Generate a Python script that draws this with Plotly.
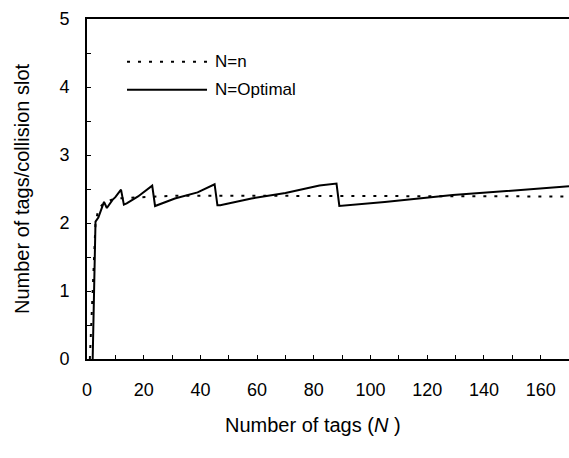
import plotly.graph_objects as go

# N = Optimal (solid line)
opt_x = [2, 3, 4, 5, 6, 7, 8, 9, 10, 11, 12, 13, 14, 18, 23, 24, 31, 39, 45, 46, 47, 58, 70, 82, 88, 89, 102, 105, 129, 141, 152, 170]
opt_y = [0.0, 2.02, 2.08, 2.2, 2.31, 2.22, 2.28, 2.34, 2.38, 2.43, 2.49, 2.27, 2.29, 2.39, 2.55, 2.25, 2.36, 2.45, 2.57, 2.26, 2.26, 2.36, 2.44, 2.55, 2.58, 2.25, 2.29, 2.31, 2.41, 2.45, 2.49, 2.54]

# N = n (dotted line)
n_x = [1, 2, 3, 4, 6, 10, 20, 30, 60, 100, 170]
n_y = [0.0, 1.0, 2.0, 2.2, 2.3, 2.36, 2.38, 2.4, 2.4, 2.4, 2.39]

x_ticks = [0, 20, 40, 60, 80, 100, 120, 140, 160]
y_ticks = [0, 1, 2, 3, 4, 5]

FONT = "Liberation Sans, Arial, sans-serif"

fig = go.Figure()
fig.add_trace(go.Scatter(x=n_x, y=n_y, mode="lines", name="N=n",
                         line=dict(color="black", width=2, dash="3px,8px")))
fig.add_trace(go.Scatter(x=opt_x, y=opt_y, mode="lines", name="N=Optimal",
                         line=dict(color="black", width=2)))

# legend drawn manually
fig.add_shape(type="line", xref="paper", yref="paper", x0=0.083, x1=0.249, y0=0.874, y1=0.874,
              line=dict(color="black", width=2, dash="3px,8px"))
fig.add_shape(type="line", xref="paper", yref="paper", x0=0.083, x1=0.249, y0=0.792, y1=0.792,
              line=dict(color="black", width=2))
fig.add_annotation(xref="paper", yref="paper", x=0.262, y=0.874, text="N=n", showarrow=False,
                   xanchor="left", yanchor="middle", font=dict(family=FONT, size=17, color="black"))
fig.add_annotation(xref="paper", yref="paper", x=0.262, y=0.792, text="N=Optimal", showarrow=False,
                   xanchor="left", yanchor="middle", font=dict(family=FONT, size=17, color="black"))

# x-axis title (offset left of plot centre, as in the original)
fig.add_annotation(xref="paper", yref="paper", x=0.469, y=-0.194, text="Number of tags (<i>N</i> )",
                   showarrow=False, xanchor="center", yanchor="middle",
                   font=dict(family=FONT, size=20, color="black"))

fig.update_layout(
    width=569, height=458,
    margin=dict(l=87, r=0, t=19, b=99),
    paper_bgcolor="white", plot_bgcolor="white",
    showlegend=False,
    font=dict(family=FONT, size=18, color="black"),
)
fig.update_xaxes(
    range=[0, 170], tickvals=x_ticks, ticks="inside", ticklen=4, tickwidth=1, tickcolor="black",
    showline=True, linecolor="black", linewidth=2, mirror=True, showgrid=False, zeroline=False,
    ticklabelstandoff=13,
    minor=dict(dtick=10, ticks="inside", ticklen=4, tickcolor="black", showgrid=False),
)
fig.update_yaxes(
    range=[0, 5], tickvals=y_ticks, ticks="inside", ticklen=4, tickwidth=1, tickcolor="black",
    showline=True, linecolor="black", linewidth=2, showgrid=False, zeroline=False,
    ticklabelstandoff=12,
    minor=dict(dtick=0.5, ticks="inside", ticklen=4, tickcolor="black", showgrid=False),
    title=dict(text="Number of tags/collision slot", font=dict(size=20), standoff=24),
)

fig.write_html("out.html")
